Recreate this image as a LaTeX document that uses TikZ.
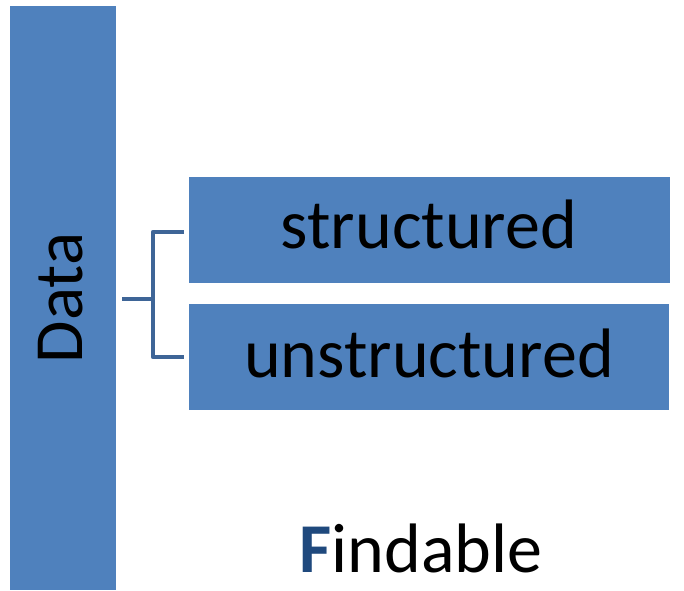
\documentclass[tikz,border=0pt]{standalone}
\usepackage{fontspec}
\setmainfont{Carlito}
\definecolor{boxblue}{HTML}{4F81BD}
\definecolor{linkblue}{HTML}{3E6597}
\definecolor{darkF}{HTML}{1F497D}
\begin{document}
\begin{tikzpicture}[x=1pt,y=-1pt,
  blk/.style={fill=boxblue,draw=none,inner sep=0pt},
  lbl/.style={inner sep=0pt,anchor=base,font=\fontsize{70}{80}\selectfont},
  link/.style={draw=linkblue,line width=4.5pt}]
\useasboundingbox (0,0) rectangle (684,590);
\node[blk,minimum width=106pt,minimum height=584pt,anchor=north west] (data) at (10,6) {};
\node[lbl,rotate=90,font=\fontsize{69}{80}\selectfont] (datalbl) at (82,298) {Data};
\node[blk,minimum width=481pt,minimum height=106pt,anchor=north west] (s) at (189,177) {};
\node[lbl] (stxt) at (429,248) {structured};
\node[blk,minimum width=480pt,minimum height=106pt,anchor=north west] (u) at (189,304) {};
\node[lbl] (utxt) at (429,377) {unstructured};
\coordinate (b0) at (122,299);
\coordinate (bm) at (153,299);
\coordinate (bt) at (153,232);
\coordinate (bb) at (153,357);
\coordinate (st) at (184,232);
\coordinate (ut) at (184,357);
\draw[link] (b0) -- (bm);
\draw[link,line join=round] (st) -- (bt) -- (bb) -- (ut);
\node[lbl,text depth=0pt] (f) at (421,572) {\textcolor{darkF}{\textbf{F}}indable};
\end{tikzpicture}
\end{document}
